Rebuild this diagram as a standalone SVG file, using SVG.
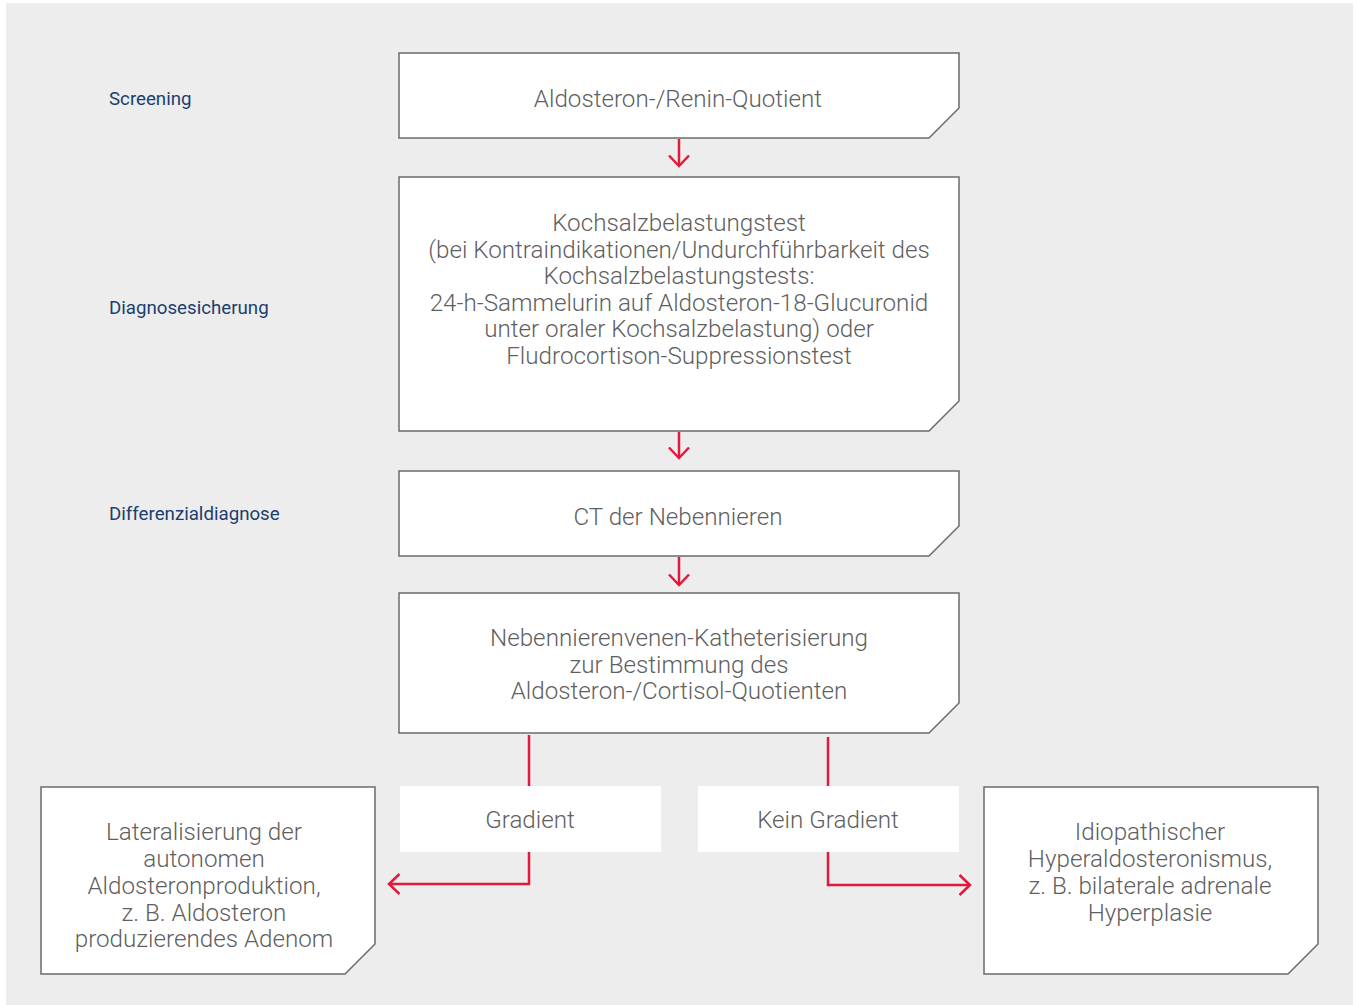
<svg xmlns="http://www.w3.org/2000/svg" width="1357" height="1005" viewBox="0 0 1357 1005">
<style>
.bg{fill:#ededed}
.box{fill:#fff;stroke:#6b6b6b;stroke-width:1.5}
.lbl{fill:#fff}
.t{font-family:Roboto,"Liberation Sans",sans-serif;font-weight:300;font-size:24.2px;fill:#5f5f5f;text-anchor:middle}
.s{font-family:Roboto,"Liberation Sans",sans-serif;font-size:18.7px;fill:#1c3f6e}
.c{fill:none;stroke:#e3183d;stroke-width:2.5}
</style>
<defs>
<marker id="ah" markerWidth="16" markerHeight="24" viewBox="0 0 16 24" refX="13" refY="12" orient="auto" markerUnits="userSpaceOnUse">
<path d="M2.5,2 L13,12 L2.5,22" fill="none" stroke="#e3183d" stroke-width="2.5"/>
</marker>
</defs>
<rect class="bg" x="6" y="3" width="1347" height="1002"/>
<g id="labels">
<text class="s" x="109" y="105">Screening</text>
<text class="s" x="109" y="314">Diagnosesicherung</text>
<text class="s" x="109" y="520">Differenzialdiagnose</text>
</g>
<g id="n1">
<path class="box" d="M399,53 H959 V108 L929,138 H399 Z"/>
<text class="t" x="678" y="107">Aldosteron-/Renin-Quotient</text>
</g>
<g id="n2">
<path class="box" d="M399,177 H959 V401 L929,431 H399 Z"/>
<text class="t" x="679" y="231">Kochsalzbelastungstest</text>
<text class="t" x="679" y="258">(bei Kontraindikationen/Undurchführbarkeit des</text>
<text class="t" x="679" y="284">Kochsalzbelastungstests:</text>
<text class="t" x="679" y="311">24-h-Sammelurin auf Aldosteron-18-Glucuronid</text>
<text class="t" x="679" y="337">unter oraler Kochsalzbelastung) oder</text>
<text class="t" x="679" y="364">Fludrocortison-Suppressionstest</text>
</g>
<g id="n3">
<path class="box" d="M399,471 H959 V526 L929,556 H399 Z"/>
<text class="t" x="678" y="525">CT der Nebennieren</text>
</g>
<g id="n4">
<path class="box" d="M399,593 H959 V703 L929,733 H399 Z"/>
<text class="t" x="679" y="646">Nebennierenvenen-Katheterisierung</text>
<text class="t" x="679" y="673">zur Bestimmung des</text>
<text class="t" x="679" y="699">Aldosteron-/Cortisol-Quotienten</text>
</g>
<g id="connectors">
<line class="c" x1="679" y1="139" x2="679" y2="166" marker-end="url(#ah)"/>
<line class="c" x1="679" y1="432" x2="679" y2="458" marker-end="url(#ah)"/>
<line class="c" x1="679" y1="557" x2="679" y2="585" marker-end="url(#ah)"/>
<line class="c" x1="529" y1="735" x2="529" y2="787"/>
<polyline class="c" points="529,852 529,884 389,884" marker-end="url(#ah)"/>
<line class="c" x1="828" y1="737" x2="828" y2="787"/>
<polyline class="c" points="828,852 828,885 970,885" marker-end="url(#ah)"/>
</g>
<g id="g1">
<rect class="lbl" x="400" y="786" width="261" height="66"/>
<text class="t" x="530" y="828">Gradient</text>
</g>
<g id="g2">
<rect class="lbl" x="698" y="786" width="261" height="66"/>
<text class="t" x="828" y="828">Kein Gradient</text>
</g>
<g id="n5">
<path class="box" d="M41,787 H375 V944 L345,974 H41 Z"/>
<text class="t" x="204" y="840">Lateralisierung der</text>
<text class="t" x="204" y="867">autonomen</text>
<text class="t" x="204" y="894">Aldosteronproduktion,</text>
<text class="t" x="204" y="921">z. B. Aldosteron</text>
<text class="t" x="204" y="947">produzierendes Adenom</text>
</g>
<g id="n6">
<path class="box" d="M984,787 H1318 V944 L1288,974 H984 Z"/>
<text class="t" x="1150" y="840">Idiopathischer</text>
<text class="t" x="1150" y="867">Hyperaldosteronismus,</text>
<text class="t" x="1150" y="894">z. B. bilaterale adrenale</text>
<text class="t" x="1150" y="921">Hyperplasie</text>
</g>
</svg>
